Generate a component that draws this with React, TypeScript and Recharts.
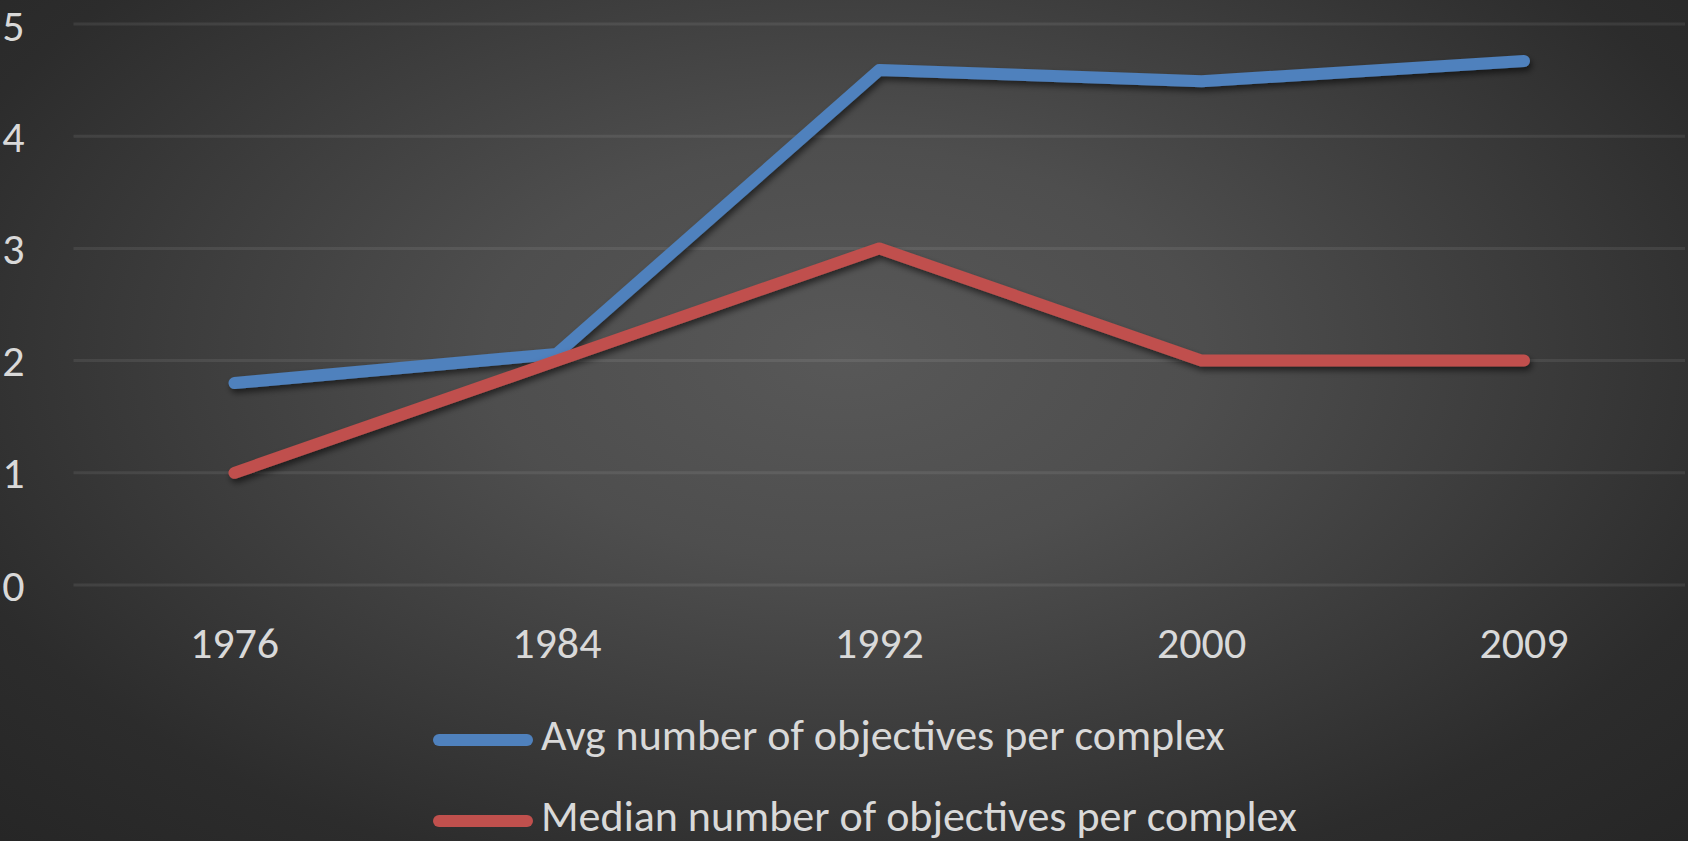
import React from "react";
import { LineChart, Line, XAxis, YAxis, CartesianGrid } from "recharts";

// survey years on the x axis
const years = ["1976", "1984", "1992", "2000", "2009"];
const avgObjectives = [1.8, 2.06, 4.59, 4.49, 4.67];
const medianObjectives = [1, 2, 3, 2, 2];
const yTicks = [0, 1, 2, 3, 4, 5];

const seriesNames = [
    "Avg number of objectives per complex",
    "Median number of objectives per complex",
];
const seriesColors = ["#4F81BD", "#C0504D"];

const data = years.map((year, i) => ({
    year,
    avg: avgObjectives[i],
    median: medianObjectives[i],
}));

const FONT = "Calibri, Carlito, Lato, sans-serif";
const TEXT = "#d9d9d9";
const FONT_SIZE = 44;

export default function App() {
    return (
        <div
            style={{
                position: "absolute",
                left: 0,
                top: 0,
                width: 1688,
                height: 841,
                overflow: "hidden",
                fontFamily: FONT,
                background:
                    "radial-gradient(ellipse farthest-corner at 50% 42%, #585858 0%, #4e4e4e 30%, #2c2c2c 80%, #262626 100%)",
            }}
        >
            <LineChart
                width={1688}
                height={841}
                data={data}
                margin={{ top: 24, right: 3, bottom: 195, left: 0 }}
            >
                <defs>
                    <filter id="lineShadow" x="-10%" y="-10%" width="120%" height="130%">
                        <feDropShadow dx="2" dy="4" stdDeviation="3" floodColor="#000" floodOpacity="0.55" />
                    </filter>
                </defs>
                <CartesianGrid
                    vertical={false}
                    stroke="rgba(255,255,255,0.08)"
                    strokeWidth={3}
                />
                <XAxis
                    dataKey="year"
                    axisLine={false}
                    tickLine={false}
                    tickSize={0}
                    tickMargin={42}
                    height={61}
                    padding={{ left: 161, right: 161 }}
                    tick={{ fill: TEXT, fontSize: FONT_SIZE, fontFamily: FONT }}
                />
                <YAxis
                    domain={[0, 5]}
                    ticks={yTicks}
                    axisLine={false}
                    tickLine={false}
                    tickSize={0}
                    tickMargin={49}
                    width={73.5}
                    tick={{ fill: TEXT, fontSize: FONT_SIZE, fontFamily: FONT }}
                />
                <Line
                    dataKey="avg"
                    name={seriesNames[0]}
                    stroke={seriesColors[0]}
                    strokeWidth={12}
                    strokeLinecap="round"
                    strokeLinejoin="round"
                    dot={false}
                    activeDot={false}
                    filter="url(#lineShadow)"
                    isAnimationActive={false}
                />
                <Line
                    dataKey="median"
                    name={seriesNames[1]}
                    stroke={seriesColors[1]}
                    strokeWidth={12}
                    strokeLinecap="round"
                    strokeLinejoin="round"
                    dot={false}
                    activeDot={false}
                    filter="url(#lineShadow)"
                    isAnimationActive={false}
                />
            </LineChart>
            <div style={{ position: "absolute", left: 433, top: 699 }}>
                {seriesNames.map((name, i) => (
                    <div
                        key={name}
                        style={{ display: "flex", alignItems: "center", height: 81 }}
                    >
                        <div
                            style={{
                                width: 100,
                                height: 12,
                                borderRadius: 6,
                                background: seriesColors[i],
                                marginRight: 8,
                            }}
                        />
                        <span
                            style={{
                                color: TEXT,
                                fontSize: FONT_SIZE,
                                lineHeight: 1,
                                whiteSpace: "nowrap",
                                position: "relative",
                                top: -5,
                            }}
                        >
                            {name}
                        </span>
                    </div>
                ))}
            </div>
        </div>
    );
}
